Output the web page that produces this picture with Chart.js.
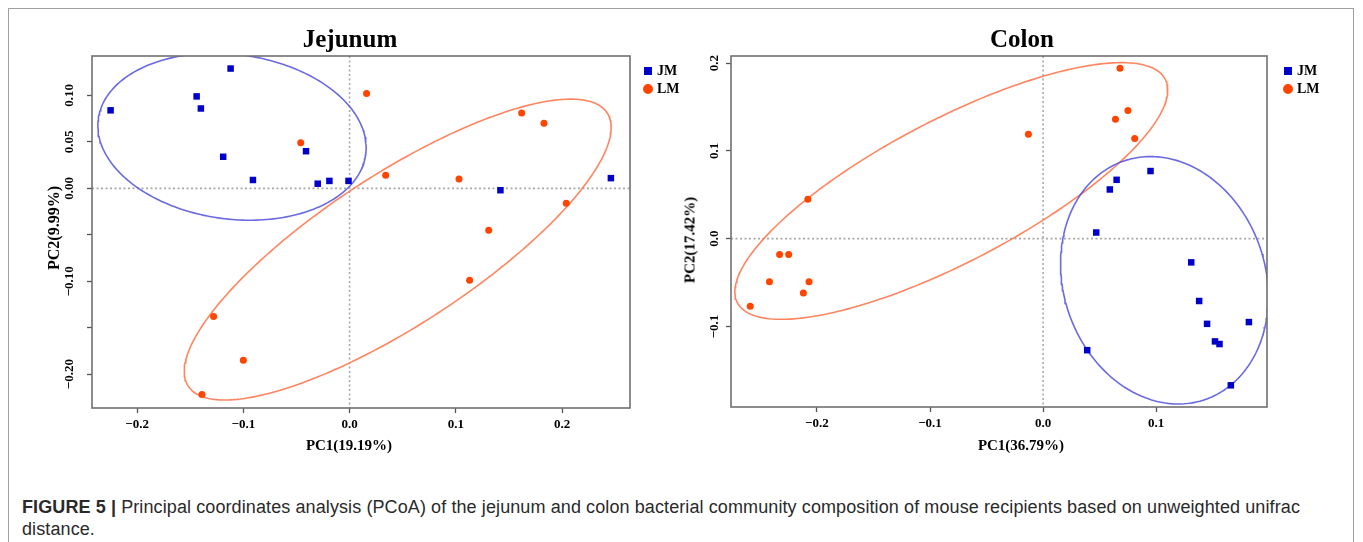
<!DOCTYPE html>
<html>
<head>
<meta charset="utf-8">
<script src="https://cdn.jsdelivr.net/npm/chart.js@4.4.1/dist/chart.umd.min.js"></script>
<style>
html,body{margin:0;padding:0;background:#fff;}
#page{position:relative;width:1363px;height:542px;overflow:hidden;background:#fff;font-family:"Liberation Serif","Times New Roman",serif;}
#border{position:absolute;left:8px;top:8px;width:1346px;height:600px;border:1px solid #a0a0a0;box-sizing:border-box;}
canvas{position:absolute;top:0;}
#c1{left:0;}
#c2{left:680px;}
.t{position:absolute;font-weight:bold;color:#000;white-space:nowrap;transform:translate(-50%,-50%);line-height:1;}
.rot{transform:translate(-50%,-50%) rotate(-90deg);}
.lg{position:absolute;font-weight:bold;font-size:14px;color:#000;line-height:1;transform:translateY(-50%);}
.sq{position:absolute;width:8px;height:8px;background:#0000CD;transform:translate(-50%,-50%);}
.ci{position:absolute;width:10px;height:10px;border-radius:50%;background:#FF4500;transform:translate(-50%,-50%);}
#cap{position:absolute;left:22px;top:496px;font-family:"Liberation Sans",Arial,sans-serif;font-size:18px;letter-spacing:0.1px;color:#2a2a2a;line-height:22px;white-space:nowrap;}
#cap b{font-weight:bold;}
</style>
</head>
<body>
<div id="page">
  <div id="border"></div>
  <canvas id="c1" width="680" height="470"></canvas>
  <canvas id="c2" width="683" height="470"></canvas>

  <div class="t" style="left:350px;top:38px;font-size:25px;">Jejunum</div>
  <div class="t" style="left:1022px;top:38px;font-size:25px;">Colon</div>
  <div class="t" style="left:349px;top:445px;font-size:15px;">PC1(19.19%)</div>
  <div class="t" style="left:1021px;top:445px;font-size:15px;">PC1(36.79%)</div>
  <div class="t rot" style="left:54px;top:228px;font-size:16px;">PC2(9.99%)</div>
  <div class="t rot" style="left:690px;top:240px;font-size:15px;">PC2(17.42%)</div>

  <div class="sq" style="left:648px;top:71px;"></div>
  <div class="lg" style="left:657px;top:71px;">JM</div>
  <div class="ci" style="left:648px;top:89px;"></div>
  <div class="lg" style="left:657px;top:89px;">LM</div>

  <div class="sq" style="left:1288px;top:71px;"></div>
  <div class="lg" style="left:1297px;top:71px;">JM</div>
  <div class="ci" style="left:1288px;top:89px;"></div>
  <div class="lg" style="left:1297px;top:89px;">LM</div>

  <div id="cap"><b>FIGURE 5 |</b> Principal coordinates analysis (PCoA) of the jejunum and colon bacterial community composition of mouse recipients based on unweighted unifrac<br>distance.</div>
</div>

<script>
// ---------------- data ----------------
const seriesNames = ['JM', 'LM'];

// Jejunum
const jejJMx = [-0.225, -0.112, -0.144, -0.140, -0.119, -0.041, -0.091, -0.030, -0.019, -0.001, 0.142, 0.246];
const jejJMy = [0.084, 0.129, 0.099, 0.086, 0.034, 0.040, 0.009, 0.005, 0.008, 0.008, -0.002, 0.011];
const jejLMx = [0.016, -0.046, 0.034, 0.103, 0.162, 0.183, 0.204, 0.131, 0.113, -0.128, -0.100, -0.139];
const jejLMy = [0.102, 0.049, 0.014, 0.010, 0.081, 0.070, -0.016, -0.045, -0.099, -0.138, -0.185, -0.222];

// Colon
const colJMx = [0.095, 0.065, 0.059, 0.047, 0.131, 0.138, 0.145, 0.182, 0.152, 0.156, 0.039, 0.166];
const colJMy = [0.077, 0.067, 0.056, 0.007, -0.027, -0.071, -0.097, -0.095, -0.117, -0.120, -0.127, -0.167];
const colLMx = [-0.208, 0.068, 0.075, 0.064, 0.081, -0.013, -0.233, -0.225, -0.242, -0.207, -0.212, -0.259];
const colLMy = [0.045, 0.194, 0.146, 0.136, 0.114, 0.119, -0.018, -0.018, -0.049, -0.049, -0.062, -0.077];

// confidence ellipses: [centre x, centre y, axis1 dx, axis1 dy, axis2 dx, axis2 dy] (data units)
const jejJMEllipse = [-0.1107, 0.0556, 0.1259, -0.0190, -0.0101, -0.0879];
const jejLMEllipse = [0.0453, -0.0659, 0.1972, 0.1471, 0.0387, -0.0678];
const colJMEllipse = [0.1073, -0.0474, 0.0358, -0.1359, -0.0846, -0.0371];
const colLMEllipse = [-0.0812, 0.0543, 0.1892, 0.1272, 0.0290, -0.0720];

// axes
const jejXRange = [-0.2425, 0.264];
const jejYRange = [-0.2365, 0.1425];
const jejXTicks = [-0.2, -0.1, 0.0, 0.1, 0.2];
const jejXTickLabels = ['\u22120.2', '\u22120.1', '0.0', '0.1', '0.2'];
const jejYTicks = [-0.20, -0.15, -0.10, -0.05, 0.00, 0.05, 0.10];
const jejYTickLabels = ['\u22120.20', '', '\u22120.10', '', '0.00', '0.05', '0.10'];

const colXRange = [-0.276, 0.198];
const colYRange = [-0.1917, 0.208];
const colXTicks = [-0.2, -0.1, 0.0, 0.1];
const colXTickLabels = ['\u22120.2', '\u22120.1', '0.0', '0.1'];
const colYTicks = [-0.1, 0.0, 0.1, 0.2];
const colYTickLabels = ['\u22120.1', '0.0', '0.1', '0.2'];

// ---------------- helpers ----------------
const JM_COLOR = '#0000CD';
const LM_COLOR = '#FF4500';
const JM_ELL = 'rgba(80,80,220,0.85)';
const LM_ELL = 'rgba(255,120,80,0.9)';

function toPoints(xs, ys) { return xs.map((x, i) => ({x: x, y: ys[i]})); }
function ellipsePoints(e) {
  const pts = [];
  const n = 240;
  for (let i = 0; i <= n; i++) {
    const t = 2 * Math.PI * i / n;
    const c = Math.cos(t), s = Math.sin(t);
    pts.push({x: e[0] + e[2] * c + e[4] * s, y: e[1] + e[3] * c + e[5] * s});
  }
  return pts;
}

const framePlugin = {
  id: 'frameAndZero',
  beforeDatasetsDraw(chart) {
    const {ctx, chartArea: a} = chart;
    const x0 = chart.scales.x.getPixelForValue(0);
    const y0 = chart.scales.y.getPixelForValue(0);
    ctx.save();
    ctx.strokeStyle = '#a8a8a8';
    ctx.lineWidth = 1.6;
    ctx.setLineDash([2, 2.5]);
    ctx.beginPath();
    ctx.moveTo(x0, a.top); ctx.lineTo(x0, a.bottom);
    ctx.moveTo(a.left, y0); ctx.lineTo(a.right, y0);
    ctx.stroke();
    ctx.restore();
  },
  afterDraw(chart) {
    const {ctx, chartArea: a} = chart;
    ctx.save();
    ctx.strokeStyle = '#707070';
    ctx.lineWidth = 1.6;
    ctx.strokeRect(a.left, a.top, a.right - a.left, a.bottom - a.top);
    ctx.restore();
  }
};

function makeChart(id, cfg) {
  const tickFont = {family: '"Liberation Serif", "Times New Roman", serif', size: 13, weight: 'bold'};
  return new Chart(document.getElementById(id), {
    type: 'scatter',
    data: {
      datasets: [
        {label: seriesNames[0], data: toPoints(cfg.jmx, cfg.jmy), pointStyle: 'rect', pointRadius: 4.6,
         backgroundColor: JM_COLOR, borderColor: JM_COLOR, borderWidth: 0},
        {label: seriesNames[1], data: toPoints(cfg.lmx, cfg.lmy), pointStyle: 'circle', pointRadius: 3.5,
         backgroundColor: LM_COLOR, borderColor: LM_COLOR, borderWidth: 0},
        {label: seriesNames[0] + ' ellipse', data: ellipsePoints(cfg.jmE), showLine: true, pointRadius: 0,
         borderColor: JM_ELL, borderWidth: 1.6, fill: false, tension: 0},
        {label: seriesNames[1] + ' ellipse', data: ellipsePoints(cfg.lmE), showLine: true, pointRadius: 0,
         borderColor: LM_ELL, borderWidth: 1.6, fill: false, tension: 0}
      ]
    },
    options: {
      responsive: false,
      animation: false,
      devicePixelRatio: 1,
      events: [],
      layout: {padding: cfg.padding},
      plugins: {legend: {display: false}, tooltip: {enabled: false}, title: {display: false}},
      scales: {
        x: {
          type: 'linear', min: cfg.xr[0], max: cfg.xr[1],
          afterBuildTicks: s => { s.ticks = cfg.xt.map(v => ({value: v})); },
          afterFit: s => { s.height = cfg.xh; },
          ticks: {callback: (v, i) => cfg.xl[i], font: tickFont, color: '#000', padding: 4,
                  autoSkip: false, maxRotation: 0, minRotation: 0},
          grid: {drawOnChartArea: false, drawTicks: true, tickLength: 5, tickColor: '#555', tickWidth: 1.3},
          border: {display: false}
        },
        y: {
          type: 'linear', min: cfg.yr[0], max: cfg.yr[1],
          afterBuildTicks: s => { s.ticks = cfg.yt.map(v => ({value: v})); },
          afterFit: s => { s.width = cfg.yw; },
          ticks: {callback: (v, i) => cfg.yl[i], font: tickFont, color: '#000', padding: cfg.ypad,
                  autoSkip: false, minRotation: 90, maxRotation: 90, crossAlign: 'center'},
          grid: {drawOnChartArea: false, drawTicks: true, tickLength: 5, tickColor: '#555', tickWidth: 1.3},
          border: {display: false}
        }
      }
    },
    plugins: [framePlugin]
  });
}

makeChart('c1', {
  jmx: jejJMx, jmy: jejJMy, lmx: jejLMx, lmy: jejLMy, jmE: jejJMEllipse, lmE: jejLMEllipse,
  xr: jejXRange, yr: jejYRange, xt: jejXTicks, xl: jejXTickLabels, yt: jejYTicks, yl: jejYTickLabels,
  padding: {left: 0, right: 50, top: 56, bottom: 0}, xh: 62, yw: 92, ypad: 2
});
makeChart('c2', {
  jmx: colJMx, jmy: colJMy, lmx: colLMx, lmy: colLMy, jmE: colJMEllipse, lmE: colLMEllipse,
  xr: colXRange, yr: colYRange, xt: colXTicks, xl: colXTickLabels, yt: colYTicks, yl: colYTickLabels,
  padding: {left: 0, right: 96, top: 56, bottom: 0}, xh: 63, yw: 51, ypad: 0
});
</script>
</body>
</html>
